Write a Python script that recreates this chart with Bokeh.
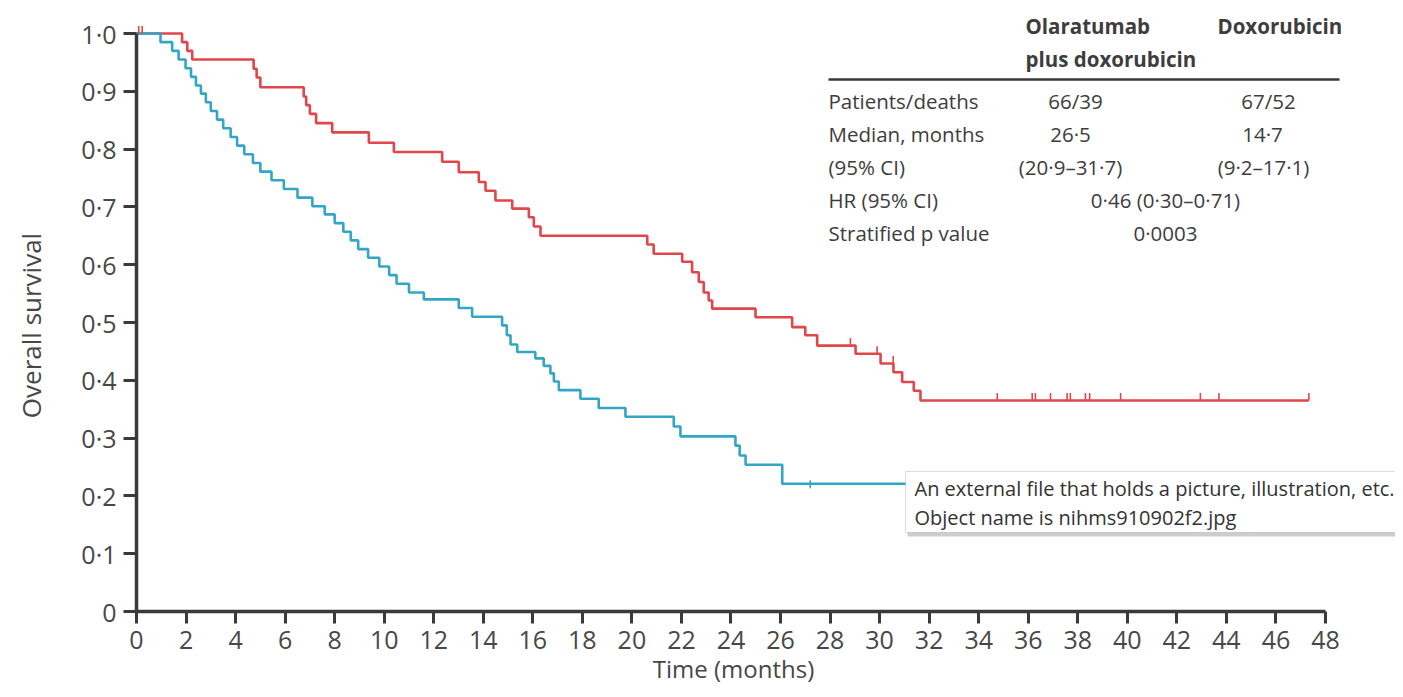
import math
from bokeh.plotting import figure
from bokeh.models import FixedTicker, CustomJSTickFormatter, BoxAnnotation, Label
from bokeh.embed import file_html
from bokeh.resources import INLINE
from bokeh.core.properties import value

# ---------------- data ----------------
# Olaratumab plus doxorubicin (red): step times (months) and survival after each step
red_t = [0, 1.84, 2.05, 2.25, 4.73, 4.85, 5.0, 6.75, 6.85, 7.0, 7.25, 7.9, 9.38, 10.39,
         12.34, 13.01, 13.82, 14.09, 14.49, 15.17, 15.84, 16.04, 16.31, 20.62, 20.88,
         22.03, 22.43, 22.70, 22.90, 23.10, 23.24, 24.99, 26.47, 27.00, 27.48, 29.03,
         30.04, 30.56, 30.91, 31.38, 31.65]
red_s = [1.0, 0.985, 0.970, 0.955, 0.939, 0.924, 0.907, 0.891, 0.876, 0.861, 0.845, 0.829,
         0.811, 0.795, 0.778, 0.760, 0.743, 0.728, 0.711, 0.697, 0.682, 0.666, 0.650, 0.635,
         0.619, 0.605, 0.587, 0.570, 0.552, 0.538, 0.524, 0.509, 0.492, 0.478, 0.460, 0.446,
         0.429, 0.414, 0.397, 0.382, 0.365]
red_end = 47.33
red_censored = [0.09, 0.23, 28.82, 29.9, 30.55, 34.75, 36.16, 36.29, 36.9, 37.57, 37.7,
                38.31, 38.48, 39.73, 42.95, 43.7, 47.33]

# Doxorubicin (blue)
blue_t = [0, 0.97, 1.44, 1.7, 1.98, 2.2, 2.4, 2.6, 2.8, 3.0, 3.25, 3.5, 3.8, 4.06, 4.35,
          4.7, 5.0, 5.45, 5.95, 6.5, 7.1, 7.6, 8.0, 8.35, 8.65, 8.95, 9.35, 9.8, 10.2, 10.5,
          11.0, 11.6, 13.01, 13.55, 14.76, 14.95, 15.1, 15.37, 16.1, 16.44, 16.71, 16.85,
          17.05, 17.92, 18.66, 19.74, 21.69, 21.96, 24.18, 24.35, 24.59, 26.07]
blue_s = [1.0, 0.985, 0.970, 0.955, 0.940, 0.925, 0.910, 0.896, 0.881, 0.866, 0.851, 0.836,
          0.821, 0.806, 0.791, 0.776, 0.761, 0.746, 0.731, 0.716, 0.701, 0.687, 0.672, 0.657,
          0.642, 0.627, 0.612, 0.597, 0.582, 0.567, 0.552, 0.540, 0.525, 0.510, 0.495, 0.478,
          0.462, 0.449, 0.438, 0.425, 0.412, 0.398, 0.383, 0.368, 0.352, 0.337, 0.320, 0.303,
          0.287, 0.270, 0.254, 0.221]
blue_end = 31.8
blue_censored = [27.2]

x_ticks = list(range(0, 49, 2))
y_ticks = [0, 0.1, 0.2, 0.3, 0.4, 0.5, 0.6, 0.7, 0.8, 0.9, 1.0]
x_title = "Time (months)"
y_title = "Overall survival"

table_header = ["Olaratumab", "plus doxorubicin", "Doxorubicin"]
row_labels = ["Patients/deaths", "Median, months", "(95% CI)", "HR (95% CI)", "Stratified p value"]
col_olara = ["66/39", "26·5", "(20·9–31·7)"]
col_doxo = ["67/52", "14·7", "(9·2–17·1)"]
col_both = ["0·46 (0·30–0·71)", "0·0003"]
tooltip_lines = ["An external file that holds a picture, illustration, etc.",
                 "Object name is nihms910902f2.jpg"]

# ---------------- layout ----------------
W, H = 1395, 689
X0PIX = 136                  # canvas x of month 0
Y0PIX = 611                  # canvas y of survival 0
PXM = 24.77                  # pixels per month
PXS = 578.0                  # pixels per unit survival

def fx(xpix):
    return (xpix - X0PIX) / PXM

def fy(ypix):
    return (Y0PIX - ypix) / PXS

FONT = "Open Sans"
RED = "#e0464a"
BLUE = "#33a6c6"
TXT = "#3d3d3d"
AX = "#3a3a3a"
LBL = "#474747"

p = figure(width=W, height=H, output_backend="svg", toolbar_location=None,
           x_range=(fx(0), fx(W)), y_range=(fy(H), fy(0)), title=None,
           min_border_left=0, min_border_bottom=0, min_border_top=0, min_border_right=0)
p.outline_line_color = None
p.grid.visible = False
p.background_fill_color = "white"
p.border_fill_color = "white"

def survival_at(ts, ss, t):
    s = ss[0]
    for ti, si in zip(ts, ss):
        if ti <= t:
            s = si
    return s

# curves
p.step(red_t + [red_end], red_s + [red_s[-1]], mode="after", line_color=RED, line_width=2.6)
p.step(blue_t + [blue_end], blue_s + [blue_s[-1]], mode="after", line_color=BLUE, line_width=2.6)

# censor marks
rc_y = [survival_at(red_t, red_s, t) for t in red_censored]
p.segment(x0=red_censored, y0=rc_y, x1=red_censored, y1=[y + 0.013 for y in rc_y],
          line_color=RED, line_width=1.6)
bc_y = [survival_at(blue_t, blue_s, t) for t in blue_censored]
p.segment(x0=blue_censored, y0=[y - 0.008 for y in bc_y], x1=blue_censored,
          y1=[y + 0.006 for y in bc_y], line_color=BLUE, line_width=1.6)

# axes, pinned at the origin inside the frame
for ax in (p.xaxis[0], p.yaxis[0]):
    ax.fixed_location = 0
    ax.axis_line_color = AX
    ax.axis_line_width = 3.5
    ax.major_tick_line_color = AX
    ax.major_tick_line_width = 3
    ax.major_tick_in = 0
    ax.minor_tick_line_color = None
    ax.major_label_text_font = FONT
    ax.major_label_text_color = LBL
    ax.major_label_text_font_size = "25px"

p.xaxis.ticker = FixedTicker(ticks=x_ticks)
p.xaxis.bounds = (0, 48)
p.xaxis.major_tick_out = 12
p.xaxis.major_label_standoff = 7

p.yaxis.ticker = FixedTicker(ticks=y_ticks)
p.yaxis.bounds = (0, 1)
p.yaxis.major_tick_out = 13
p.yaxis.major_label_standoff = 7
p.yaxis.formatter = CustomJSTickFormatter(
    code="if (Math.abs(tick) < 1e-9) { return '0'; } return tick.toFixed(1).replace('.', '\u00b7');")

# axis titles, centred on the drawn axis extents
p.add_layout(Label(x=fx(733), y=fy(668), text=x_title, text_font=FONT, text_font_size="24px",
                   text_color=LBL, text_align="center", text_baseline="middle"))
p.add_layout(Label(x=fx(30), y=fy(325), text=y_title, text_font=FONT, text_font_size="26px",
                   text_color=LBL, text_align="center", text_baseline="middle",
                   angle=math.pi / 2))

# table
TFS = "20.5px"
p.text(x=[fx(1025), fx(1025), fx(1217)], y=[fy(25), fy(58), fy(25)], text=table_header,
       text_font=value(FONT), text_font_size=TFS, text_font_style="bold",
       text_color=TXT, text_align="left", text_baseline="middle")
p.segment(x0=[fx(828)], y0=[fy(79)], x1=[fx(1339)], y1=[fy(79)], line_color=AX, line_width=2.5)
row_y = [fy(100), fy(133), fy(166), fy(199), fy(232)]
p.text(x=[fx(828)] * len(row_labels), y=row_y, text=row_labels,
       text_font=value(FONT), text_font_size=TFS, text_color=TXT,
       text_align="left", text_baseline="middle")
p.text(x=[fx(1075), fx(1070), fx(1070)], y=row_y[:3], text=col_olara,
       text_font=value(FONT), text_font_size=TFS, text_color=TXT,
       text_align="center", text_baseline="middle")
p.text(x=[fx(1268), fx(1262), fx(1263)], y=row_y[:3], text=col_doxo,
       text_font=value(FONT), text_font_size=TFS, text_color=TXT,
       text_align="center", text_baseline="middle")
p.text(x=[fx(1165), fx(1165)], y=row_y[3:], text=col_both,
       text_font=value(FONT), text_font_size=TFS, text_color=TXT,
       text_align="center", text_baseline="middle")

# tooltip-like box overlay
shadow = BoxAnnotation(left=fx(907), right=fx(1400), top=fy(473), bottom=fy(536),
                       fill_color="#b8b8b8", fill_alpha=0.7, line_color=None)
box = BoxAnnotation(left=fx(905), right=fx(1405), top=fy(471), bottom=fy(532),
                    fill_color="white", fill_alpha=1.0, line_color="#8c8c8c", line_width=1)
p.add_layout(shadow)
p.add_layout(box)
for txt, yy in zip(tooltip_lines, [488, 517]):
    p.add_layout(Label(x=fx(914), y=fy(yy), text=txt, text_font=FONT, text_font_size="20px",
                       text_color="#333333", text_baseline="middle", text_align="left"))

open("out.html", "w").write(file_html(p, INLINE))
